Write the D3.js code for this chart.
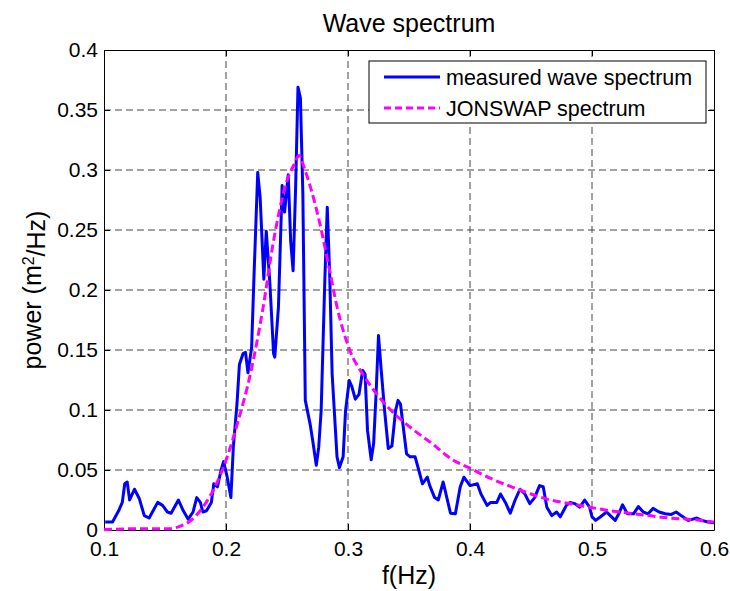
<!DOCTYPE html>
<html>
<head>
<meta charset="utf-8">
<script src="https://cdn.jsdelivr.net/npm/d3@7"></script>
<style>
  body { margin: 0; background: #fff; }
  svg { font-family: "Liberation Sans", Arial, sans-serif; }
  .grid line { stroke: #444; stroke-dasharray: 7,4; }
  .axis path, .axis line { stroke: #000; }
  .axis text { font-size: 21px; fill: #000; }
</style>
</head>
<body>
<svg width="730" height="591"></svg>
<script>
// measured wave spectrum
const freq = [0.101,0.107,0.112,0.115,0.117,0.119,0.121,0.125,0.129,0.133,0.137,0.144,0.148,0.152,0.155,
  0.161,0.165,0.169,0.173,0.176,0.179,0.181,0.184,0.188,0.190,0.193,0.196,0.198,0.201,0.204,0.206,0.209,
  0.211,0.214,0.216,0.218,0.221,0.223,0.226,0.228,0.231,0.233,0.236,0.239,0.240,0.243,0.246,0.248,0.251,
  0.253,0.255,0.257,0.259,0.261,0.263,0.265,0.269,0.271,0.274,0.276,0.278,0.281,0.283,0.285,0.287,0.291,
  0.293,0.296,0.298,0.301,0.303,0.306,0.309,0.312,0.314,0.316,0.319,0.321,0.323,0.325,0.327,0.330,0.333,
  0.336,0.339,0.341,0.343,0.346,0.348,0.351,0.355,0.358,0.361,0.365,0.367,0.371,0.374,0.378,0.381,0.384,
  0.388,0.392,0.395,0.400,0.406,0.409,0.414,0.417,0.422,0.425,0.429,0.433,0.437,0.441,0.445,0.449,0.453,
  0.457,0.460,0.463,0.467,0.471,0.474,0.479,0.482,0.486,0.490,0.494,0.498,0.500,0.503,0.507,0.512,0.515,
  0.519,0.522,0.525,0.529,0.534,0.538,0.542,0.546,0.550,0.555,0.560,0.565,0.569,0.573,0.579,0.586,0.590,
  0.595,0.600];
const power = [0.0067,0.0067,0.016,0.023,0.0385,0.040,0.025,0.034,0.026,0.012,0.010,0.023,0.0205,0.015,0.014,
  0.025,0.016,0.009,0.015,0.027,0.023,0.015,0.016,0.023,0.0385,0.036,0.050,0.057,0.044,0.027,0.069,0.105,
  0.138,0.147,0.148,0.131,0.152,0.213,0.298,0.277,0.209,0.249,0.205,0.147,0.144,0.186,0.287,0.265,0.296,
  0.241,0.216,0.283,0.369,0.360,0.280,0.108,0.088,0.075,0.054,0.069,0.0995,0.208,0.269,0.213,0.130,0.061,
  0.052,0.061,0.0995,0.1245,0.120,0.109,0.113,0.133,0.130,0.083,0.0585,0.072,0.113,0.162,0.136,0.0995,0.068,
  0.070,0.0995,0.108,0.105,0.080,0.0635,0.061,0.061,0.050,0.0385,0.044,0.037,0.027,0.025,0.040,0.027,0.014,
  0.0135,0.036,0.044,0.037,0.0385,0.030,0.0205,0.023,0.023,0.030,0.023,0.014,0.025,0.034,0.030,0.022,0.027,
  0.037,0.036,0.019,0.012,0.015,0.011,0.0205,0.023,0.022,0.019,0.025,0.019,0.011,0.008,0.011,0.015,0.012,
  0.008,0.0135,0.021,0.0135,0.0135,0.0195,0.015,0.0135,0.018,0.015,0.0135,0.013,0.015,0.012,0.008,0.010,0.008,
  0.0067,0.006];

// JONSWAP spectrum
const jFreq = [0.100,0.126,0.152,0.162,0.172,0.181,0.191,0.201,0.210,0.220,0.230,0.239,0.249,0.256,0.260,
  0.264,0.270,0.277,0.285,0.291,0.301,0.314,0.327,0.340,0.353,0.369,0.385,0.401,0.417,0.434,0.450,0.466,
  0.482,0.498,0.515,0.531,0.547,0.563,0.579,0.600];
const jPower = [0.0003,0.001,0.001,0.003,0.0086,0.019,0.036,0.061,0.091,0.130,0.183,0.241,0.288,0.305,0.312,
  0.302,0.283,0.255,0.216,0.186,0.151,0.127,0.109,0.095,0.084,0.072,0.059,0.051,0.043,0.036,0.030,0.025,
  0.022,0.019,0.016,0.014,0.012,0.010,0.009,0.0067];

const xTicks = [0.1, 0.2, 0.3, 0.4, 0.5, 0.6];
const yTicks = [0, 0.05, 0.1, 0.15, 0.2, 0.25, 0.3, 0.35, 0.4];
const legendLabels = ['measured wave spectrum', 'JONSWAP spectrum'];

const svg = d3.select('svg');
const marginLeft = 104, marginTop = 50, width = 610, height = 480;

const chart = svg.append('g')
  .attr('transform', `translate(${marginLeft}, ${marginTop})`);

const xScale = d3.scaleLinear().domain([0.1, 0.6]).range([0, width]);
const yScale = d3.scaleLinear().domain([0, 0.4]).range([height, 0]);
const fmt = d3.format('~g');

// grid
chart.append('g')
  .attr('class', 'grid')
  .selectAll('line')
  .data(xTicks.slice(1, -1))
  .join('line')
  .attr('x1', d => xScale(d)).attr('x2', d => xScale(d))
  .attr('y1', 0).attr('y2', height);

chart.append('g')
  .attr('class', 'grid')
  .selectAll('line')
  .data(yTicks.slice(1, -1))
  .join('line')
  .attr('x1', 0).attr('x2', width)
  .attr('y1', d => yScale(d)).attr('y2', d => yScale(d));

// axes with inward ticks, box on all sides
chart.append('g')
  .attr('class', 'axis')
  .attr('transform', `translate(0, ${height})`)
  .call(d3.axisBottom(xScale).tickValues(xTicks).tickFormat(fmt)
    .tickSizeInner(-6).tickSizeOuter(0).tickPadding(11));

chart.append('g')
  .attr('class', 'axis')
  .call(d3.axisLeft(yScale).tickValues(yTicks).tickFormat(fmt)
    .tickSizeInner(-6).tickSizeOuter(0).tickPadding(6));

chart.append('g')
  .attr('class', 'axis')
  .call(d3.axisTop(xScale).tickValues(xTicks).tickFormat('')
    .tickSizeInner(-6).tickSizeOuter(0));

chart.append('g')
  .attr('class', 'axis')
  .attr('transform', `translate(${width}, 0)`)
  .call(d3.axisRight(yScale).tickValues(yTicks).tickFormat('')
    .tickSizeInner(-6).tickSizeOuter(0));

// lines
const measured = freq.map((f, i) => [f, power[i]]);
const jonswap = jFreq.map((f, i) => [f, jPower[i]]);

const line = d3.line()
  .x(d => xScale(d[0]))
  .y(d => yScale(d[1]));

chart.append('path')
  .datum(measured)
  .attr('fill', 'none')
  .attr('stroke', '#0000ff')
  .attr('stroke-width', 3)
  .attr('stroke-linejoin', 'round')
  .attr('d', line);

chart.append('path')
  .datum(jonswap)
  .attr('fill', 'none')
  .attr('stroke', '#ff00ff')
  .attr('stroke-width', 3)
  .attr('stroke-dasharray', '8,4')
  .attr('d', d3.line().curve(d3.curveMonotoneX).x(d => xScale(d[0])).y(d => yScale(d[1])));

// legend
const legend = chart.append('g')
  .attr('transform', `translate(${369 - marginLeft}, ${61 - marginTop})`);

legend.append('rect')
  .attr('width', 337)
  .attr('height', 62)
  .attr('fill', '#fff')
  .attr('stroke', '#000');

const styles = [{ color: '#0000ff', dash: null }, { color: '#ff00ff', dash: '7,4' }];

legendLabels.forEach((label, i) => {
  const y = 16 + i * 31;
  legend.append('line')
    .attr('x1', 15).attr('x2', 71)
    .attr('y1', y).attr('y2', y)
    .attr('stroke', styles[i].color)
    .attr('stroke-width', 3)
    .attr('stroke-dasharray', styles[i].dash);
  legend.append('text')
    .attr('x', 77)
    .attr('y', y)
    .attr('dy', '0.35em')
    .style('font-size', '21.5px')
    .text(label);
});

// titles
svg.append('text')
  .attr('x', marginLeft + width / 2)
  .attr('y', 32)
  .attr('text-anchor', 'middle')
  .style('font-size', '25px')
  .text('Wave spectrum');

svg.append('text')
  .attr('x', marginLeft + width / 2)
  .attr('y', 584)
  .attr('text-anchor', 'middle')
  .style('font-size', '25px')
  .text('f(Hz)');

const yLabel = svg.append('text')
  .attr('transform', `translate(41, ${marginTop + height / 2}) rotate(-90)`)
  .attr('text-anchor', 'middle')
  .style('font-size', '25px');
yLabel.append('tspan').text('power (m');
yLabel.append('tspan').attr('dy', '-0.45em').style('font-size', '16px').text('2');
yLabel.append('tspan').attr('dy', '0.45em').text('/Hz)');
</script>
</body>
</html>
